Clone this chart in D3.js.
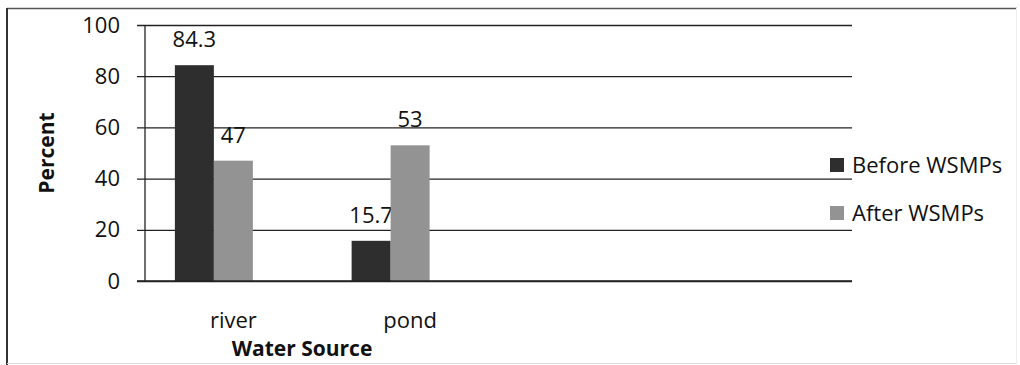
<!DOCTYPE html>
<html>
<head>
<meta charset="utf-8">
<script src="https://cdn.jsdelivr.net/npm/d3@7"></script>
<style>
  html, body { margin: 0; padding: 0; background: #fff; }
  svg { display: block; }
  text { font-family: "Open Sans", sans-serif; fill: #111; }
</style>
</head>
<body>
<svg id="chart" width="1020" height="365"></svg>
<script>
// Water source use, percent of households
const categories = ["river", "pond", "", ""];
const seriesNames = ["Before WSMPs", "After WSMPs"];
const beforeValues = [84.3, 15.7, null, null];
const afterValues = [47, 53, null, null];
const seriesColors = ["#2e2e2e", "#939393"];
const yTicks = [0, 20, 40, 60, 80, 100];
const seriesSlots = 3; // third slot in each group is kept empty

const svg = d3.select("#chart");
const FONT = "'Open Sans', sans-serif";

// frame around the chart
svg.append("line").attr("x1", 7).attr("x2", 1017).attr("y1", 8.5).attr("y2", 8.5)
  .attr("stroke", "#555").attr("stroke-width", 1.5);
svg.append("line").attr("x1", 7).attr("x2", 7).attr("y1", 8).attr("y2", 365)
  .attr("stroke", "#333").attr("stroke-width", 2);
svg.append("line").attr("x1", 7).attr("x2", 1017).attr("y1", 363.5).attr("y2", 363.5)
  .attr("stroke", "#ddd").attr("stroke-width", 1);
svg.append("line").attr("x1", 1016.5).attr("x2", 1016.5).attr("y1", 8).attr("y2", 364)
  .attr("stroke", "#eee").attr("stroke-width", 1);

const plot = { left: 145, right: 852, top: 25, bottom: 281 };

const y = d3.scaleLinear().domain([0, 100]).range([plot.bottom, plot.top]);
const x0 = d3.scaleBand().domain(d3.range(categories.length))
  .range([plot.left, plot.right]).paddingInner(0.338).paddingOuter(0.169);
const x1 = d3.scaleBand().domain(d3.range(seriesSlots)).range([0, x0.bandwidth()]);

// gridlines with short ticks left of the axis
const yAxis = d3.axisLeft(y).tickValues(yTicks)
  .tickSize(-(plot.right - plot.left)).tickSizeOuter(0);
const gy = svg.append("g").attr("transform", `translate(${plot.left},0)`).call(yAxis);
gy.select(".domain").remove();
gy.selectAll(".tick line").attr("x1", -8).attr("stroke", "#222").attr("stroke-width", 1.3);
gy.selectAll(".tick text").attr("x", -25).attr("font-size", 22).attr("fill", "#111")
  .style("font-family", FONT);

// vertical axis line
svg.append("line").attr("x1", plot.left).attr("x2", plot.left)
  .attr("y1", plot.top).attr("y2", plot.bottom)
  .attr("stroke", "#222").attr("stroke-width", 1.3);

// bars with value labels
const seriesValues = [beforeValues, afterValues];
seriesValues.forEach((vals, s) => {
  const g = svg.append("g");
  const data = vals.map((v, i) => ({ i, v })).filter(d => d.v != null);
  g.selectAll("rect").data(data).join("rect")
    .attr("x", d => x0(d.i) + x1(s))
    .attr("width", x1.bandwidth())
    .attr("y", d => y(d.v))
    .attr("height", d => y(0) - y(d.v))
    .attr("fill", seriesColors[s]);
  g.selectAll("text").data(data).join("text")
    .attr("x", d => x0(d.i) + x1(s) + x1.bandwidth() / 2)
    .attr("y", d => y(d.v) - 18)
    .attr("text-anchor", "middle")
    .attr("font-size", 22)
    .text(d => d.v);
});

// baseline drawn over the bars
svg.append("line").attr("x1", plot.left - 8).attr("x2", plot.right)
  .attr("y1", y(0)).attr("y2", y(0)).attr("stroke", "#222").attr("stroke-width", 1.3);

// category labels
const xAxis = d3.axisBottom(x0).tickFormat(i => categories[i]).tickSize(0).tickPadding(31);
const gx = svg.append("g").attr("transform", `translate(0,${plot.bottom})`).call(xAxis);
gx.select(".domain").remove();
gx.selectAll(".tick text").attr("font-size", 22).attr("fill", "#111")
  .style("font-family", FONT);

// axis titles
svg.append("text").attr("x", 302).attr("y", 356).attr("text-anchor", "middle")
  .attr("font-size", 21).attr("font-weight", "bold").text("Water Source");
svg.append("text").attr("transform", `translate(54,${(plot.top + plot.bottom) / 2}) rotate(-90)`)
  .attr("text-anchor", "middle").attr("font-size", 21).attr("font-weight", "bold").text("Percent");

// legend
const legend = svg.append("g").attr("transform", "translate(830,158)");
seriesNames.forEach((name, s) => {
  const row = legend.append("g").attr("transform", `translate(0,${s * 48})`);
  row.append("rect").attr("width", 14).attr("height", 14).attr("fill", seriesColors[s]);
  row.append("text").attr("x", 22).attr("y", 15).attr("font-size", 22).text(name);
});
</script>
</body>
</html>
